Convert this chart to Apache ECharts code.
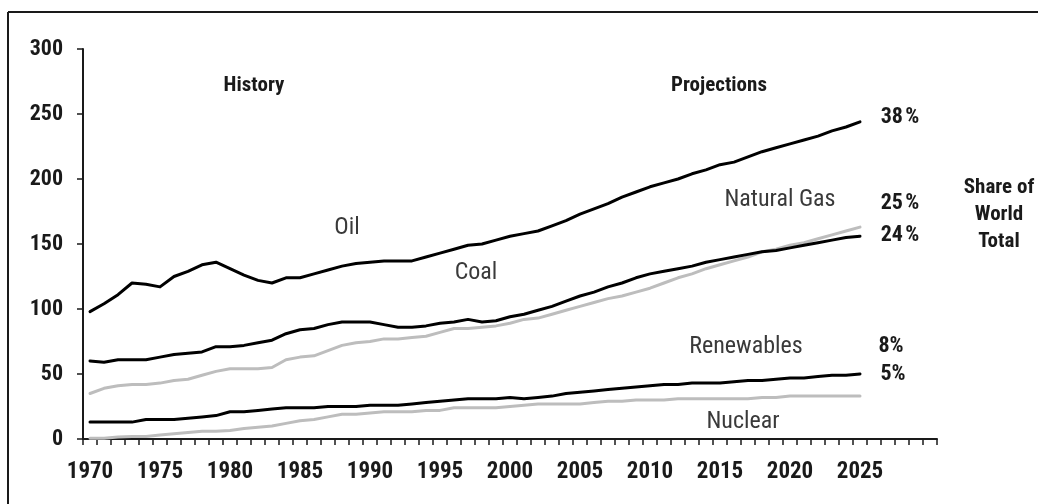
<!DOCTYPE html>
<html>
<head>
<meta charset="utf-8">
<script src="https://cdn.jsdelivr.net/npm/echarts@6/dist/echarts.min.js"></script>
<style>
html,body{margin:0;padding:0;background:#fff;}
#chart{width:1038px;height:504px;}
</style>
</head>
<body>
<div id="chart"></div>
<script>
// Categories: 1970..2030 (data to 2025)
var years = [];
for (var y = 1970; y <= 2030; y++) years.push(String(y));

var oil = [98,104,111,120,119,117,125,129,134,136,131,126,122,120,124,124,127,130,133,135,136,137,137,137,140,143,146,149,150,153,156,158,160,164,168,173,177,181,186,190,194,197,200,204,207,211,213,217,221,224,227,230,233,237,240,244];
var coal = [60,59,61,61,61,63,65,66,67,71,71,72,74,76,81,84,85,88,90,90,90,88,86,86,87,89,90,92,90,91,94,96,99,102,106,110,113,117,120,124,127,129,131,133,136,138,140,142,144,145,147,149,151,153,155,156];
var gas = [35,39,41,42,42,43,45,46,49,52,54,54,54,55,61,63,64,68,72,74,75,77,77,78,79,82,85,85,86,87,89,92,93,96,99,102,105,108,110,113,116,120,124,127,131,134,137,140,144,146,149,151,154,157,160,163];
var renewables = [13,13,13,13,15,15,15,16,17,18,21,21,22,23,24,24,24,25,25,25,26,26,26,27,28,29,30,31,31,31,32,31,32,33,35,36,37,38,39,40,41,42,42,43,43,43,44,45,45,46,47,47,48,49,49,50];
var nuclear = [0.5,0.5,1.5,2,2,3,4,5,6,6,6.5,8,9,10,12,14,15,17,19,19,20,21,21,21,22,22,24,24,24,24,25,26,27,27,27,27,28,29,29,30,30,30,31,31,31,31,31,31,32,32,33,33,33,33,33,33];

var yTicks = [0,50,100,150,200,250,300];
var fontFam = '"Roboto Condensed","Open Sans Condensed",sans-serif';

var chart = echarts.init(document.getElementById('chart'), null, {renderer:'canvas'});

function lineSeries(name, data, color) {
  return {
    name: name, type: 'line', data: data, symbol: 'none', smooth: false,
    lineStyle: {color: color, width: 3, join: 'round', cap: 'round'},
    z: color === '#000' ? 3 : 2, animation: false
  };
}

function lbl(text, x, y, size, bold, shadow) {
  var st = {text: text, x: x, y: y, fill: shadow ? '#3a3a3a' : '#1a1a1a', font: (bold ? 'bold ' : '') + size + 'px ' + fontFam, textAlign: 'center', textVerticalAlign: 'middle'};
  if (shadow) { st.textShadowColor = '#a0a0a0'; st.textShadowOffsetX = 1.5; st.textShadowOffsetY = 1.5; st.textShadowBlur = 0; }
  return {type: 'text', style: st, z: 10};
}

chart.setOption({
  animation: false,
  backgroundColor: '#fff',
  grid: {left: 83, right: 101, top: 49, bottom: 65, containLabel: false},
  xAxis: {
    type: 'category', data: years, boundaryGap: true,
    axisLine: {lineStyle: {color: '#1a1a1a', width: 2}},
    axisTick: {show: true, interval: 0, length: 6, lineStyle: {color: '#1a1a1a', width: 1.5}},
    axisLabel: {
      interval: function (i, v) { var n = +v; return n % 5 === 0 && n <= 2025; },
      color: '#1a1a1a', fontFamily: fontFam, fontWeight: 'bold', fontSize: 23, margin: 22
    },
    splitLine: {show: false}
  },
  yAxis: {
    type: 'value', min: 0, max: 300, interval: 50,
    axisLine: {show: true, lineStyle: {color: '#1a1a1a', width: 2}},
    axisTick: {show: true, length: 6, lineStyle: {color: '#1a1a1a', width: 1.5}},
    axisLabel: {color: '#1a1a1a', fontFamily: fontFam, fontWeight: 'bold', fontSize: 22, margin: 20,
      formatter: function (v) { return yTicks.indexOf(v) >= 0 ? String(v) : ''; }},
    splitLine: {show: false}
  },
  series: [
    lineSeries('Nuclear', nuclear, '#bdbdbd'),
    lineSeries('Natural Gas', gas, '#bdbdbd'),
    lineSeries('Renewables', renewables, '#000'),
    lineSeries('Coal', coal, '#000'),
    lineSeries('Oil', oil, '#000')
  ],
  graphic: [
    {type: 'line', shape: {x1: 8, y1: 12, x2: 1038, y2: 12}, style: {stroke: '#1a1a1a', lineWidth: 2}},
    {type: 'line', shape: {x1: 8, y1: 12, x2: 8, y2: 504}, style: {stroke: '#1a1a1a', lineWidth: 2}},
    lbl('History', 254, 86, 21, true, false),
    lbl('Projections', 719, 86, 21, true, false),
    lbl('Oil', 347, 228, 24, false, true),
    lbl('Coal', 476, 273, 24, false, true),
    lbl('Natural Gas', 780, 200, 24, false, true),
    lbl('Renewables', 746, 347, 24, false, true),
    lbl('Nuclear', 743, 422, 24, false, true),
    lbl('38\u200A%', 900, 117, 22, true, false),
    lbl('25\u200A%', 900, 203, 22, true, false),
    lbl('24\u200A%', 900, 235, 22, true, false),
    lbl('8%', 891, 346, 22, true, false),
    lbl('5%', 893, 374, 22, true, false),
    lbl('Share of', 999, 188, 21, true, false),
    lbl('World', 999, 215, 21, true, false),
    lbl('Total', 999, 242, 21, true, false)
  ]
});
</script>
</body>
</html>
